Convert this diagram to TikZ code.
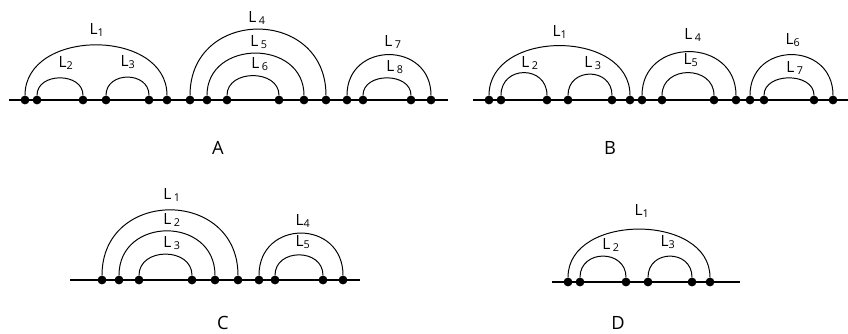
\documentclass[tikz,border=0pt]{standalone}
\usepackage{fontspec}
\setmainfont{Open Sans}
\begin{document}
\begin{tikzpicture}[x=0.25mm, y=0.25mm,
		dot/.style={circle, fill=black, inner sep=0pt, minimum size=2.2mm},
		base/.style={line width=1.6pt},
		bow/.style={line width=0.7pt},
		lab/.style={font=\fontsize{11}{13}\selectfont, inner sep=0pt},
		tag/.style={font=\fontsize{13}{15}\selectfont, inner sep=0pt}]
		\useasboundingbox (0,0) rectangle (848,333);

		\foreach \x [count=\i] in {25,37,83,106,149,167,190,207,227,279,304,326,347,363,411,431}
			\node[dot] (a\i) at (\x,233) {};
		\foreach \x [count=\i] in {489,501,547,568,612,630,642,662,714,736,750,764,814,833}
			\node[dot] (b\i) at (\x,233) {};
		\foreach \x [count=\i] in {102,119,139,192,215,238,259,275,323,343}
			\node[dot] (c\i) at (\x,53) {};
		\foreach \x [count=\i] in {568,580,626,648,692,710}
			\node[dot] (d\i) at (\x,51) {};

		\coordinate (aL) at (9,233);
		\coordinate (aR) at (448,233);
		\coordinate (bL) at (473,233);
		\coordinate (bR) at (848,233);
		\coordinate (cL) at (70,53);
		\coordinate (cR) at (360,53);
		\coordinate (dL) at (552,51);
		\coordinate (dR) at (740,51);
		\draw[base] (aL) -- (aR);
		\draw[base] (bL) -- (bR);
		\draw[base] (cL) -- (cR);
		\draw[base] (dL) -- (dR);

		\foreach \f/\t/\k in {1/6/72, 2/3/28, 4/5/29, 7/12/93, 8/11/61, 9/10/31, 13/16/59, 14/15/28}
			\draw[bow] (a\f) .. controls +(0,\k) and +(0,\k) .. (a\t);
		\foreach \f/\t/\k in {1/6/71, 2/3/35, 4/5/33, 7/10/63, 8/9/35, 11/14/59, 12/13/28}
			\draw[bow] (b\f) .. controls +(0,\k) and +(0,\k) .. (b\t);
		\foreach \f/\t/\k in {1/6/92, 2/5/64, 3/4/33, 7/10/61, 8/9/32}
			\draw[bow] (c\f) .. controls +(0,\k) and +(0,\k) .. (c\t);
		\foreach \f/\t/\k in {1/6/69, 2/3/33, 4/5/33}
			\draw[bow] (d\f) .. controls +(0,\k) and +(0,\k) .. (d\t);

		\node[lab] (la1) at (97,303) {L\textsubscript{1}};
		\node[lab] (la2) at (66,270) {L\textsubscript{2}};
		\node[lab] (la3) at (128,271) {L\textsubscript{3}};
		\node[lab] (la4) at (257,315) {L\,\textsubscript{4}};
		\node[lab] (la5) at (259,291) {L\,\textsubscript{5}};
		\node[lab] (la6) at (260,269) {L\,\textsubscript{6}};
		\node[lab] (la7) at (393,291) {L\,\textsubscript{7}};
		\node[lab] (la8) at (395,266) {L\,\textsubscript{8}};

		\node[lab] (lb1) at (560,301) {L\textsubscript{1}};
		\node[lab] (lb2) at (530,270) {L\,\textsubscript{2}};
		\node[lab] (lb3) at (593,270) {L\,\textsubscript{3}};
		\node[lab] (lb4) at (693,298) {L\,\textsubscript{4}};
		\node[lab] (lb5) at (691,273) {L\textsubscript{5}};
		\node[lab] (lb6) at (793,293) {L\textsubscript{6}};
		\node[lab] (lb7) at (795,265) {L\,\textsubscript{7}};

		\node[lab] (lc1) at (172,138) {L\,\textsubscript{1}};
		\node[lab] (lc2) at (172,113) {L\,\textsubscript{2}};
		\node[lab] (lc3) at (172,90) {L\,\textsubscript{3}};
		\node[lab] (lc4) at (303,112) {L\textsubscript{4}};
		\node[lab] (lc5) at (303,91) {L\textsubscript{5}};

		\node[lab] (ld1) at (642,122) {L\textsubscript{1}};
		\node[lab] (ld2) at (611,88) {L\,\textsubscript{2}};
		\node[lab] (ld3) at (668,91) {L\textsubscript{3}};

		\node[tag] (tA) at (218,185) {A};
		\node[tag] (tB) at (610,185) {B};
		\node[tag] (tC) at (223,10) {C};
		\node[tag] (tD) at (618,10) {D};
	\end{tikzpicture}
\end{document}
